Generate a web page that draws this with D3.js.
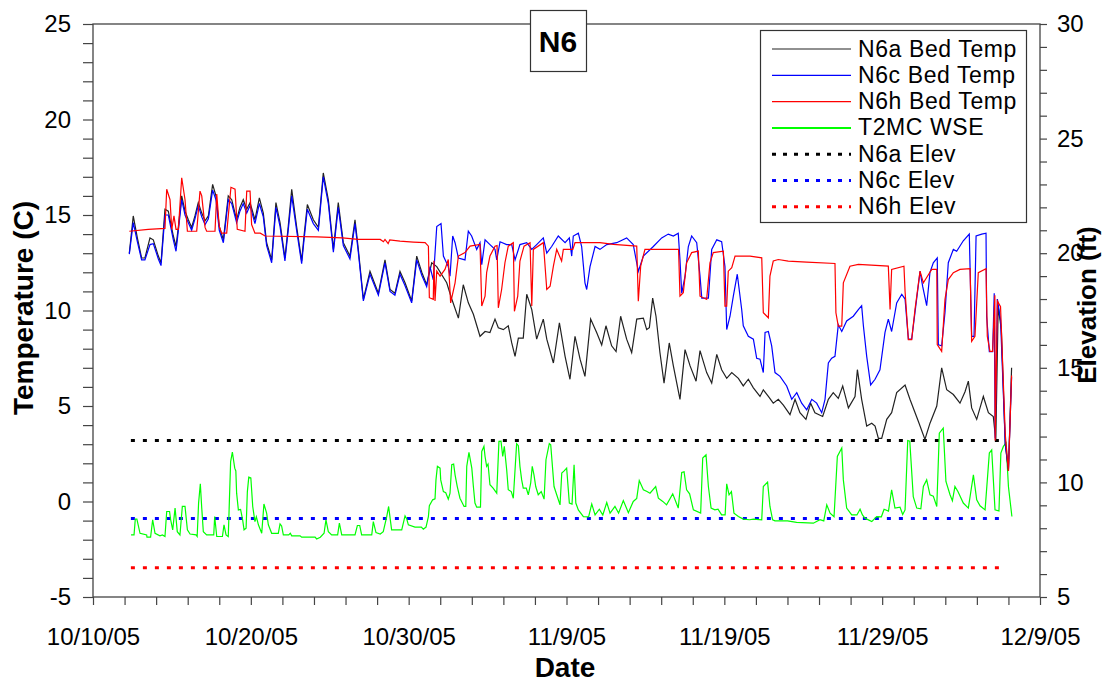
<!DOCTYPE html>
<html>
<head>
<meta charset="utf-8">
<script src="https://cdn.jsdelivr.net/npm/d3@7"></script>
<style>
  body { margin: 0; background: #fff; }
  svg text { font-family: "Liberation Sans", Arial, sans-serif; fill: #000; }
  .frame { fill: none; stroke: #444; stroke-width: 1.3; }
  .tick line { stroke: #444; stroke-width: 1.2; }
</style>
</head>
<body>
<div id="chart"></div>
<script>
// days after 10/10/05, value
const n6aBedTemp = [[2.3,13.0],[2.55,14.95],[2.81,13.8],[3.08,12.75],[3.29,12.75],[3.61,13.8],[3.82,13.7],[4.14,12.85],[4.31,12.5],[4.56,15.3],[4.77,15.2],[5.09,13.9],[5.26,13.35],[5.41,14.4],[5.62,16.0],[5.83,15.2],[6.04,14.75],[6.25,14.35],[6.46,14.95],[6.67,15.65],[6.89,15.1],[7.1,14.7],[7.31,14.95],[7.58,16.6],[7.79,16.0],[8.0,14.4],[8.26,13.7],[8.57,16.0],[8.79,15.8],[9.1,14.75],[9.31,15.4],[9.52,15.8],[9.74,15.3],[9.95,15.65],[10.26,14.75],[10.54,15.9],[10.79,15.1],[11.0,13.55],[11.32,12.65],[11.59,15.65],[11.85,14.6],[12.16,12.75],[12.37,14.4],[12.59,16.35],[12.9,14.4],[13.22,12.6],[13.37,13.9],[13.58,15.55],[13.96,14.75],[14.28,14.35],[14.59,17.2],[14.91,15.8],[15.23,13.2],[15.54,15.65],[15.86,13.55],[16.28,12.85],[16.6,14.75],[16.81,13.2],[17.13,10.6],[17.55,12.05],[18.08,10.9],[18.5,12.65],[18.82,11.1],[19.13,10.9],[19.45,12.05],[19.77,11.45],[20.19,10.5],[20.51,12.85],[20.83,12.0],[21.14,11.35],[21.46,12.5],[21.78,12.3],[22.41,11.45],[22.73,10.6],[23.15,9.6],[23.46,11.35],[23.78,10.4],[24.1,9.8],[24.52,8.65],[24.84,8.9],[25.15,8.85],[25.47,9.55],[25.68,9.1],[26.0,9.0],[26.31,9.2],[26.53,8.3],[26.74,7.6],[26.95,8.55],[27.26,8.55],[27.48,10.85],[27.8,10.05],[28.11,8.5],[28.53,9.55],[28.75,8.5],[29.17,7.25],[29.55,9.35],[29.91,7.6],[30.22,6.4],[30.54,8.65],[30.86,7.45],[31.17,6.55],[31.53,9.55],[31.91,8.85],[32.23,8.2],[32.5,9.2],[32.86,8.15],[33.14,7.85],[33.43,9.7],[33.81,8.5],[34.13,7.8],[34.45,9.55],[34.87,9.6],[35.08,9.0],[35.25,9.1],[35.46,10.65],[35.67,9.7],[35.92,7.8],[36.18,6.2],[36.51,8.3],[36.77,7.1],[37.19,5.35],[37.51,7.95],[37.83,7.1],[38.21,6.3],[38.46,7.9],[38.88,6.75],[39.2,6.2],[39.52,7.7],[39.83,6.9],[40.15,6.45],[40.47,6.75],[40.89,6.45],[41.2,6.05],[41.52,6.4],[41.84,5.95],[42.26,5.5],[42.47,5.85],[42.79,5.5],[43.1,5.15],[43.42,5.35],[43.74,5.05],[44.16,4.55],[44.48,5.35],[44.79,4.65],[45.17,4.3],[45.47,5.15],[45.74,4.65],[46.23,4.45],[46.59,5.35],[46.9,5.7],[47.22,5.4],[47.5,6.05],[47.86,4.9],[48.28,5.5],[48.43,6.9],[48.7,5.35],[49.02,3.95],[49.34,4.1],[49.55,3.95],[49.76,3.3],[49.97,3.3],[50.29,4.3],[50.6,4.65],[50.92,5.7],[51.45,6.1],[51.76,5.35],[52.29,4.2],[52.71,3.25],[53.03,4.1],[53.46,5.0],[53.77,7.0],[54.09,5.85],[54.51,5.6],[54.93,5.15],[55.25,5.75],[55.46,6.3],[55.67,4.9],[55.99,4.3],[56.41,5.5],[56.73,4.65],[57.04,4.45],[57.2,3.2],[57.35,10.2],[57.55,9.0],[57.8,3.0],[58.0,1.6],[58.2,7.0]];

const n6cBedTemp = [[2.3,12.95],[2.55,14.6],[2.81,13.6],[3.08,12.65],[3.29,12.65],[3.61,13.45],[3.82,13.5],[4.14,12.7],[4.31,12.35],[4.56,15.0],[4.77,15.0],[5.09,13.7],[5.26,13.1],[5.41,14.2],[5.62,15.8],[5.83,15.0],[6.04,14.6],[6.25,14.2],[6.46,14.8],[6.67,15.5],[6.89,14.9],[7.1,14.5],[7.31,14.8],[7.58,16.3],[7.79,15.8],[8.0,14.2],[8.26,13.55],[8.57,15.8],[8.79,15.6],[9.1,14.6],[9.31,15.2],[9.52,15.6],[9.74,15.1],[9.95,15.5],[10.26,14.55],[10.54,15.6],[10.79,14.9],[11.0,13.4],[11.32,12.5],[11.59,15.4],[11.85,14.4],[12.16,12.6],[12.37,14.2],[12.59,16.0],[12.9,14.2],[13.22,12.45],[13.37,13.7],[13.58,15.3],[13.96,14.55],[14.28,14.2],[14.59,17.0],[14.91,15.6],[15.23,13.05],[15.54,15.4],[15.86,13.4],[16.28,12.7],[16.6,14.55],[16.81,13.05],[17.13,10.5],[17.55,11.9],[18.08,10.8],[18.5,12.5],[18.82,11.0],[19.13,10.8],[19.45,11.9],[19.77,11.3],[20.19,10.4],[20.51,12.65],[20.83,11.85],[21.14,11.25],[21.35,12.3],[21.56,11.6],[21.78,14.4],[22.05,14.55],[22.2,12.85],[22.51,12.3],[22.62,11.8],[22.79,13.9],[22.94,13.55],[23.15,12.75],[23.57,12.65],[23.78,14.15],[23.99,13.9],[24.31,13.2],[24.52,13.55],[24.63,12.4],[24.84,13.7],[25.15,13.45],[25.47,13.2],[25.58,12.65],[25.79,13.6],[26.21,13.45],[26.53,13.45],[26.74,12.65],[27.05,13.45],[27.48,13.55],[27.8,13.2],[28.11,13.45],[28.53,13.8],[28.75,13.0],[29.06,13.35],[29.48,13.9],[29.91,13.55],[30.18,13.8],[30.33,12.85],[30.43,13.9],[30.75,14.05],[30.96,13.35],[31.17,11.45],[31.28,11.1],[31.49,12.3],[31.81,13.35],[32.12,13.2],[32.55,13.45],[33.18,13.55],[33.81,13.8],[34.23,13.45],[34.55,12.05],[34.87,12.85],[35.5,13.35],[36.03,13.8],[36.45,14.0],[36.77,13.9],[37.08,14.05],[37.19,12.65],[37.3,10.9],[37.51,11.8],[37.72,13.35],[37.93,13.9],[38.25,13.55],[38.46,11.8],[38.57,10.65],[38.99,10.65],[39.2,13.2],[39.52,13.7],[39.83,13.6],[40.04,12.3],[40.15,9.0],[40.36,9.7],[40.57,10.75],[40.82,11.9],[41.1,10.05],[41.2,9.2],[41.52,8.65],[41.84,8.5],[42.05,7.5],[42.26,7.45],[42.47,6.75],[42.58,8.85],[42.79,8.9],[43.0,8.15],[43.21,6.75],[43.53,6.55],[43.95,6.05],[44.27,5.35],[44.59,5.7],[44.9,5.15],[45.22,4.8],[45.54,5.35],[45.85,5.15],[46.17,4.65],[46.38,5.35],[46.59,7.25],[46.8,7.5],[47.01,7.6],[47.22,9.25],[47.44,8.9],[47.75,9.45],[48.17,9.7],[48.49,10.05],[48.7,10.25],[48.81,9.2],[49.02,7.6],[49.27,6.1],[49.55,6.4],[49.86,6.9],[50.18,8.85],[50.39,9.55],[50.6,8.9],[50.92,10.4],[51.24,10.85],[51.45,10.6],[51.66,8.5],[51.87,8.5],[52.08,9.9],[52.4,12.05],[52.57,11.25],[52.82,10.25],[53.03,12.0],[53.24,12.5],[53.49,12.75],[53.56,8.2],[53.77,8.15],[53.98,9.9],[54.19,12.5],[54.51,13.2],[54.72,13.1],[55.14,13.65],[55.52,14.0],[55.67,8.65],[55.82,8.65],[55.95,13.9],[56.31,14.0],[56.58,14.05],[56.62,9.7],[56.79,7.85],[57.0,7.85],[57.1,10.9],[57.16,3.3],[57.3,10.6],[57.5,9.5],[57.8,3.0],[58.0,1.7],[58.2,6.5]];

const n6hBedTemp = [[2.3,14.15],[3.5,14.25],[4.56,14.3],[4.67,16.35],[4.88,15.8],[4.99,14.25],[5.13,14.95],[5.26,14.25],[5.41,14.25],[5.62,16.95],[5.83,15.8],[5.98,14.15],[6.57,14.15],[6.78,16.25],[6.89,16.0],[7.1,14.35],[7.2,14.15],[7.73,14.15],[7.84,16.1],[8.0,14.4],[8.15,14.05],[8.47,14.05],[8.74,16.45],[9.0,16.35],[9.14,14.25],[9.63,14.15],[9.74,16.25],[9.95,16.25],[10.05,14.5],[10.26,14.05],[10.6,14.05],[10.9,13.9],[14.2,13.85],[15.8,13.8],[16.8,13.72],[18.2,13.72],[18.4,13.6],[18.5,13.72],[18.7,13.5],[18.8,13.7],[19.45,13.63],[20.3,13.58],[21.04,13.55],[21.25,13.37],[21.31,10.67],[21.56,10.58],[21.6,12.6],[21.67,10.5],[21.78,12.06],[21.99,11.8],[22.3,12.15],[22.51,12.67],[22.66,10.4],[22.94,11.45],[23.15,12.85],[23.57,13.03],[23.89,13.37],[24.52,13.46],[24.63,10.23],[24.84,10.75],[24.94,11.98],[25.15,12.85],[25.47,13.37],[25.6,13.4],[25.68,10.14],[25.89,11.1],[26.1,12.5],[26.31,13.37],[26.63,13.55],[26.7,9.96],[26.91,10.75],[27.05,12.59],[27.31,13.37],[27.69,13.55],[27.8,10.23],[27.9,13.2],[28.53,13.55],[28.6,12.8],[28.75,11.1],[28.96,11.27],[29.17,12.32],[29.38,13.2],[29.69,12.59],[29.8,13.2],[30.4,13.2],[30.54,13.55],[32.12,13.55],[32.97,13.46],[34.45,13.37],[34.55,10.49],[34.7,12.32],[34.97,13.2],[37.1,13.2],[37.19,10.75],[37.4,10.93],[37.61,12.5],[37.93,13.03],[38.35,13.11],[38.46,10.75],[38.88,10.58],[39.09,12.5],[39.3,13.03],[39.94,13.11],[40.04,10.23],[40.15,10.23],[40.25,12.06],[40.47,12.24],[40.68,12.85],[41.63,12.85],[42.37,12.76],[42.47,9.88],[42.79,9.62],[42.89,11.8],[43.1,12.59],[43.42,12.67],[44.05,12.59],[45.22,12.53],[47.01,12.46],[47.07,9.88],[47.22,9.18],[47.44,9.18],[47.54,11.45],[47.96,12.32],[48.49,12.41],[50.39,12.32],[50.5,10.05],[50.6,12.15],[51.38,12.32],[51.45,11.01],[51.66,8.48],[51.87,8.48],[52.08,10.05],[52.4,12.06],[52.61,11.45],[52.8,11.7],[53.14,12.15],[53.46,12.15],[53.49,8.22],[53.77,7.86],[53.98,10.58],[54.19,11.62],[54.51,11.98],[54.93,12.15],[55.57,12.19],[55.67,8.39],[55.88,8.65],[56.09,11.98],[56.58,12.19],[56.66,8.65],[56.83,7.86],[57.0,7.86],[57.14,10.8],[57.16,3.2],[57.3,10.5],[57.5,10.2],[57.8,3.5],[58.0,1.6],[58.2,6.6]];

// water surface elevation (ft), right axis
const t2mcWse = [[2.41,7.71],[2.6,7.71],[2.68,8.4],[2.78,8.4],[2.98,7.78],[3.4,7.71],[3.42,7.61],[3.65,7.61],[3.78,8.37],[3.93,7.78],[4.24,7.67],[4.4,7.71],[4.56,7.64],[4.67,8.73],[4.85,8.73],[4.92,8.37],[5.05,7.93],[5.2,8.88],[5.34,7.85],[5.51,7.71],[5.66,8.95],[5.83,8.95],[5.98,7.93],[6.15,7.75],[6.53,7.71],[6.6,7.64],[6.69,9.1],[6.8,9.94],[6.89,8.88],[6.99,7.85],[7.2,7.71],[7.65,7.71],[7.71,8.51],[7.84,7.64],[8.2,7.64],[8.3,8.15],[8.43,7.71],[8.57,7.64],[8.72,10.91],[8.83,11.32],[8.98,10.62],[9.05,10.5],[9.1,9.53],[9.21,8.8],[9.35,8.82],[9.48,8.37],[9.57,7.93],[9.7,8.0],[9.78,9.6],[9.87,10.23],[10.0,10.2],[10.12,8.95],[10.26,8.29],[10.35,8.5],[10.48,8.15],[10.69,7.78],[10.83,9.06],[11.0,8.66],[11.11,8.15],[11.32,7.78],[11.74,7.78],[11.85,8.19],[11.95,8.1],[12.06,7.71],[12.4,7.71],[12.5,7.78],[12.59,7.67],[13.12,7.67],[13.22,7.61],[14.07,7.61],[14.17,7.53],[14.4,7.61],[14.64,7.78],[14.76,8.37],[14.91,7.85],[15.12,7.71],[15.5,7.71],[15.61,8.22],[15.76,7.71],[16.6,7.71],[16.75,8.12],[16.9,8.12],[17.02,7.71],[17.66,7.71],[17.76,8.29],[17.93,7.81],[18.2,7.75],[18.39,7.85],[18.61,8.51],[18.73,8.95],[18.92,7.93],[19.56,7.93],[19.77,8.54],[19.88,8.4],[19.98,8.15],[20.4,8.05],[20.8,8.05],[20.93,7.96],[21.1,8.05],[21.25,8.51],[21.31,8.98],[21.52,9.24],[21.67,9.28],[21.73,10.11],[21.82,10.7],[21.99,10.62],[22.03,10.11],[22.2,9.6],[22.35,9.55],[22.51,9.27],[22.62,9.53],[22.73,10.77],[22.85,10.8],[22.94,10.33],[23.08,9.82],[23.25,9.31],[23.51,8.95],[23.62,8.95],[23.68,10.7],[23.82,11.31],[24.0,10.62],[24.1,9.82],[24.2,9.1],[24.31,8.92],[24.55,8.92],[24.63,11.35],[24.77,11.57],[24.84,11.13],[24.94,10.7],[25.03,10.8],[25.15,9.9],[25.35,9.75],[25.58,9.53],[25.72,11.79],[25.85,11.8],[25.96,11.13],[26.06,11.57],[26.21,10.55],[26.31,9.68],[26.5,9.6],[26.63,9.31],[26.74,10.55],[26.84,11.69],[26.95,11.6],[27.05,10.7],[27.16,10.11],[27.26,9.75],[27.45,9.75],[27.58,9.46],[27.73,9.97],[27.83,10.7],[27.94,10.33],[28.05,9.82],[28.21,9.46],[28.4,9.6],[28.58,9.27],[28.7,10.99],[28.91,11.69],[29.0,11.64],[29.21,9.82],[29.38,9.46],[29.59,9.02],[29.7,10.41],[29.85,10.5],[30.01,10.62],[30.18,9.1],[30.35,9.05],[30.48,10.77],[30.59,9.1],[30.75,8.8],[31.07,8.51],[31.4,8.5],[31.6,9.06],[31.81,8.58],[32.08,8.83],[32.3,8.58],[32.55,9.12],[32.76,8.66],[33.07,8.95],[33.3,8.66],[33.6,9.21],[33.92,8.68],[34.23,9.17],[34.45,9.3],[34.61,10.08],[34.87,9.68],[35.1,9.6],[35.29,9.53],[35.65,9.82],[35.82,9.31],[36.1,9.17],[36.34,9.02],[36.73,9.5],[37.08,8.88],[37.3,10.43],[37.45,10.46],[37.61,9.68],[37.8,9.5],[38.04,8.8],[38.5,8.66],[38.63,11.06],[38.84,11.2],[38.99,9.82],[39.16,8.88],[39.4,8.8],[39.6,8.83],[39.83,8.58],[40.05,8.58],[40.15,9.94],[40.3,9.46],[40.45,9.6],[40.61,8.66],[40.89,8.51],[41.2,8.4],[41.6,8.37],[41.84,8.4],[42.37,8.37],[42.47,9.82],[42.74,10.01],[42.89,8.95],[43.06,8.37],[43.21,8.32],[44.0,8.32],[44.58,8.26],[45.64,8.22],[46.06,8.37],[46.3,8.32],[46.49,9.02],[46.7,8.66],[46.95,8.5],[47.16,11.13],[47.44,11.5],[47.54,10.11],[47.75,8.88],[48.07,8.58],[48.4,8.58],[48.6,8.83],[48.75,8.58],[48.91,8.44],[49.34,8.29],[49.65,8.51],[49.95,8.5],[50.12,8.83],[50.4,8.75],[50.6,9.68],[50.81,8.88],[51.13,8.92],[51.3,8.6],[51.45,8.8],[51.62,11.83],[51.75,11.8],[51.97,9.38],[52.19,8.88],[52.45,8.85],[52.61,9.82],[52.82,10.11],[53.03,9.46],[53.24,9.4],[53.46,8.95],[53.62,12.15],[53.87,12.37],[54.04,10.04],[54.3,9.46],[54.45,9.2],[54.61,9.82],[54.8,9.6],[55.14,9.1],[55.46,8.88],[55.78,10.33],[55.99,9.24],[56.2,8.98],[56.52,8.8],[56.79,11.28],[56.94,11.42],[57.15,8.8],[57.4,8.75],[57.52,11.28],[57.68,11.57],[57.85,11.72],[58.0,9.82],[58.22,8.51]];

// sensor elevations (ft), constant over the record
const elevDays = [2.4, 57.8];
const n6aElev = 11.83;
const n6cElev = 8.42;
const n6hElev = 6.28;

const tempTicks = [-5, 0, 5, 10, 15, 20, 25];
const elevTicks = [5, 10, 15, 20, 25, 30];
const dateTickDays = [0, 10, 20, 30, 40, 50, 60];

const legendItems = [
    { name: 'N6a Bed Temp', color: '#222', dash: null, width: 1.2 },
    { name: 'N6c Bed Temp', color: '#0000ff', dash: null, width: 1.2 },
    { name: 'N6h Bed Temp', color: '#ff0000', dash: null, width: 1.2 },
    { name: 'T2MC WSE', color: '#00ff00', dash: null, width: 2 },
    { name: 'N6a Elev', color: '#000', dash: '4,7', width: 3 },
    { name: 'N6c Elev', color: '#0000ff', dash: '4,7', width: 3 },
    { name: 'N6h Elev', color: '#ff0000', dash: '4,7', width: 3 }
];

const width = 1117, height = 683;
const plot = { left: 93, right: 1040, top: 24, bottom: 597 };
const startMs = Date.UTC(2005, 9, 10);
const toDate = d => new Date(startMs + d * 864e5);

let x = d3.scaleUtc().domain([toDate(0), toDate(60)]).range([plot.left, plot.right]);
let yTemp = d3.scaleLinear().domain([-5, 25]).range([plot.bottom, plot.top]);
let yElev = d3.scaleLinear().domain([5, 30]).range([plot.bottom, plot.top]);

let svg = d3.select('#chart').append('svg')
    .attr('width', width)
    .attr('height', height);

svg.append('rect').attr('width', width).attr('height', height).attr('fill', '#fff');

// axes
let fmt = d3.utcFormat('%-m/%-d/%y');
let xAxis = d3.axisBottom(x)
    .tickValues(d3.range(0, 61, 2).map(toDate))
    .tickSize(8)
    .tickFormat(d => {
        let day = Math.round((d - startMs) / 864e5);
        return dateTickDays.includes(day) ? fmt(d) : '';
    });
let gx = svg.append('g').attr('transform', `translate(0,${plot.bottom})`).call(xAxis);
gx.selectAll('text').attr('font-size', 24).attr('dy', '1.55em');

let yLeft = d3.axisLeft(yTemp)
    .tickValues(d3.range(-5, 26, 1))
    .tickSize(10)
    .tickPadding(12)
    .tickFormat(d => tempTicks.includes(d) ? d : '');
let gl = svg.append('g').attr('transform', `translate(${plot.left},0)`).call(yLeft);
gl.selectAll('text').attr('font-size', 24);

let yRight = d3.axisRight(yElev)
    .tickValues(d3.range(5, 31, 1))
    .tickSize(7)
    .tickPadding(10)
    .tickFormat(d => elevTicks.includes(d) ? d : '');
let gr = svg.append('g').attr('transform', `translate(${plot.right},0)`).call(yRight);
gr.selectAll('text').attr('font-size', 24);

svg.selectAll('.domain').remove();

svg.append('rect')
    .classed('frame', true)
    .attr('x', plot.left)
    .attr('y', plot.top)
    .attr('width', plot.right - plot.left)
    .attr('height', plot.bottom - plot.top);

// series
let tempLine = d3.line().x(d => x(toDate(d[0]))).y(d => yTemp(d[1]));
let elevLine = d3.line().x(d => x(toDate(d[0]))).y(d => yElev(d[1]));

let seriesLayer = svg.append('g').attr('fill', 'none');

[[n6aElev, '#000'], [n6cElev, '#0000ff'], [n6hElev, '#ff0000']].forEach(([v, c]) => {
    seriesLayer.append('path')
        .datum(elevDays.map(d => [d, v]))
        .attr('d', elevLine)
        .attr('stroke', c)
        .attr('stroke-width', 3)
        .attr('stroke-dasharray', '4,8');
});

seriesLayer.append('path').datum(t2mcWse).attr('d', elevLine)
    .attr('stroke', '#00ff00').attr('stroke-width', 1.2);
seriesLayer.append('path').datum(n6aBedTemp).attr('d', tempLine)
    .attr('stroke', '#222').attr('stroke-width', 1.2);
seriesLayer.append('path').datum(n6cBedTemp).attr('d', tempLine)
    .attr('stroke', '#0000ff').attr('stroke-width', 1.2);
seriesLayer.append('path').datum(n6hBedTemp).attr('d', tempLine)
    .attr('stroke', '#ff0000').attr('stroke-width', 1.2);

// title box
let title = svg.append('g');
title.append('rect')
    .attr('x', 530.5).attr('y', 10.5).attr('width', 56).attr('height', 61)
    .attr('fill', '#fff').attr('stroke', '#333').attr('stroke-width', 1.2);
title.append('text')
    .attr('x', 558).attr('y', 52)
    .attr('text-anchor', 'middle')
    .attr('font-size', 30).attr('font-weight', 'bold')
    .text('N6');

// legend
let legend = svg.append('g');
legend.append('rect')
    .attr('x', 760.5).attr('y', 30.5).attr('width', 266).attr('height', 192)
    .attr('fill', '#fff').attr('stroke', '#333').attr('stroke-width', 1.2);
let rows = legend.selectAll('.legend-row')
    .data(legendItems)
    .enter()
    .append('g')
    .attr('transform', (d, i) => `translate(0,${49 + i * 26.3})`);
rows.append('line')
    .attr('x1', 772).attr('x2', 851)
    .attr('stroke', d => d.color)
    .attr('stroke-width', d => d.width)
    .attr('stroke-dasharray', d => d.dash);
rows.append('text')
    .attr('x', 858).attr('y', 7.5)
    .attr('font-size', 23)
    .attr('letter-spacing', 0.6)
    .text(d => d.name);

// axis titles
svg.append('text')
    .attr('transform', 'translate(33,308) rotate(-90)')
    .attr('text-anchor', 'middle')
    .attr('font-size', 28).attr('font-weight', 'bold')
    .text('Temperature (C)');
svg.append('text')
    .attr('transform', 'translate(1096,305) rotate(-90)')
    .attr('text-anchor', 'middle')
    .attr('font-size', 26).attr('font-weight', 'bold')
    .text('Elevation (ft)');
svg.append('text')
    .attr('x', 565).attr('y', 677)
    .attr('text-anchor', 'middle')
    .attr('font-size', 28).attr('font-weight', 'bold')
    .text('Date');
</script>
</body>
</html>
